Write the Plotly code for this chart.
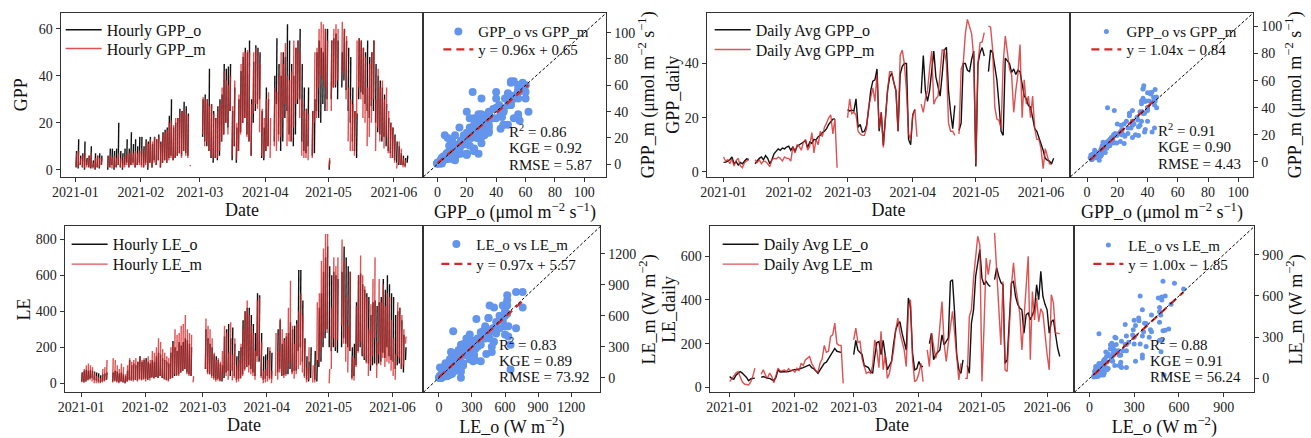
import plotly.graph_objects as go
import pandas as pd

N = None
START = "2021-01-01"
N_DAYS = 158  # 2021-01-01 .. 2021-06-07

# ---------------- Daily averages ----------------
gpp_daily_o = [3.5, 3.6, 4.0, 4.5, 5.5, 3.0, 3.8, 2.5, 3.5, 3.0, 4.0, 4.8, 4.6,
               N, N,
               3.0, 4.0, 5.0, 5.5, 4.5, 6.0, 5.0, 3.0, 4.5, 6.7, 7.5, 8.5, 8.0, 8.8, 8.5, 9.2,
               9.5, 8.0, 9.2, 7.5, 9.5, 10.0, 10.5, 11.0, 11.5, 9.0, 11.0, 10.5, 12.0, 11.8, 13.0,
               13.5, 14.5, 15.0, 16.0, 17.5, 18.5, 19.5, 19.6,
               N, N, N, N, N,
               23, 22.5, 22.8, 22.5, 27, 16.5, 17.5, 14.7, 15, 17, 23, 30, 33.5, 34, 38, 15, 22,
               9.8, 20, 30, 35, 36.5, 33, 30, 15, 36, 39, 40, 40, 12, 10,
               21, 23, N, N, 29, 43, 30, 26, 30, 38, 44.6, 35, 31, 28, 36, 45, 46, 30, 22, 16,
               24.5, N, 15.3, 18, 40, 40, 37.5, 37, 41.6, 44.6,
               2, 40, 44, 45.9, 42.8, N, 37, 45, 44, 38.5, 34, 25, 15, 13.5, 42, 41, 40, 36.7, 38,
               36, 37.5, 37, 32, 28, 27, 24.5, 24, 20, 16, 15, 12.8, 10, 8, 5, 4.3, 4, 3, 5]
gpp_daily_m = [5.5, 4.0, 4.5, 3.0, 4.8, 2.2, 4.2, 5.0, 2.2, 1.5, 3.5, 4.0, 4.5,
               N, N,
               4.5, 3.5, 4.5, 3.0, 4.0, 3.8, 3.0, 2.0, 4.5, 5.0, 4.8, 5.5, 5.0, 4.0, 5.5, 5.0,
               5.0, 4.0, 9.5, 7.0, 10.0, 9.5, 8.0, 11.0, 12.0, 8.0, 9.5, 14.5, 7.0, 12.0, 10.0,
               15.0, 13.0, 16.5, 18.0, 20.0, 21.0, 14.0, 19.5, 1.5,
               N, N, N, N,
               20, 27, 21.5, 22, 21, 15, 14, 13.5, 13.5, 16, 24, 28, 31, 26, 36, 16, 22, 9, 20,
               30, 37, 37, 33, 30, 15, 43, 45, 40, 30, 14, 12,
               21, 23, 13, N, 25, 22, 27, 30, 38, 44.6, 25, 27, 28, 36, 45, 45, 40, 18, 15, 15,
               13.5, N, 14, 38, 40, 51, 56.3, 54, 51, 42,
               3, 40, 47.7, 48, 51.4, N, 53.8, 53.5, 45, 24, 19.5, 19, 16, 40, 50.2, 45, 38, 36,
               22, 30, 36, 47, 20, 34, 25, 28, 20, 28, 16, 12, 12, 8.6, 1.2, 8.6, 6, 3, 2.7, N]

le_daily_o = [49, 40, 37, 55, 64, 72, 65, 57, 45, 30, 38, 41, 42,
              N, N,
              45, 49, 45, 41, 41, 35, 30, 45, 80, 70, 70, 72, 70, 72, 75, 80, 82, 80, 85, 87, 90,
              95, 100, 103, 90, 85, 75, 64, 80, 95, 110, 115, 130, 148, 165, 178, 165, 163, 160,
              N, N, N, N, N,
              150, 215, 170, 160, 150, 100, 95, 90, 72, 64, 140, 205, 210, 150, 215, 149, 80, 100,
              118, 200, 263, 290, 300, 248, 210, 170, 409, 370, 156, 80, 85, 118, 95, 95,
              N, N,
              200, 248, 126, 150, 160, 171, 240, 194, 210, 225, 485, 493, 340, 150, 80, 64, 126,
              N, 100, 64, 294, 355, 508, 570, 631, 500, 470, 485, 470, 462,
              N,
              493, 547, 508, 480, 470, 110, 126, 300, 478, 485, 416, 380, 363, 355, 248, 332, 340,
              309, 330, 355, 470, 401, 531, 416, 380, 355, 248, 300, 309, 240, 180, 141]
le_daily_m = [26, 40, 57, 65, 72, 50, 25, 15, 14, 11, 25, 50, 87,
              N, N,
              60, 80, 55, 41, 65, 50, 20, 55, 87, 75, 75, 80, 70, 85, 75, 80, 70, 87, 75, 110, 100,
              125, 135, 141, 110, 90, 75, 70, 110, 130, 192, 160, 165, 233, 240, 294, 200, 192, 192, 18,
              N, N, N, N,
              217, 271, 205, 210, 130, 90, 64, 70, 64, 100, 217, 170, 90, 256, 80, 149, 41, 64, 120,
              171, 263, 317, 250, 202, 171, 95, 355, 401, 126, 26, 34, 64, 110, 26,
              N,
              171, 95, 248, 180, 133, 171, 300, 393, 202, 118, 202, 279, 348, 250, 133, 34, 110, N,
              41, 41, 325, 355, 500, 600, 692, 650, 26, 279, 592, 516, 585,
              N,
              707, 539, 350, 194, 485, 80, 72, 300, 462, 570, 462, 400, 340, 171, 309, 420, 600,
              126, 439, 309, 409, 300, 360, 340, 233, 150, 80, 424, 386, 248, 248, 245]

# ---------------- Hourly series: daily low / daily peak of the hourly values ----------------
gpp_hourly_o_low = [1, 0.5, 2, 1, 0, 2, 1, 0.5, 1, 0, 1, 0.5, 2,
                    N, N,
                    0, 1, 2, 0, 1, 2, 1, 0, 2, 3, 1, 2, 3, 1, 2, 3,
                    2, 1, 3, 0, 3, 1, 4, 2, 4, 1, 3, 4, 3, 5, 6, 4, 5, 6, 7, 6, 8, 7, 6,
                    N, N, N, N, N, N,
                    14, 12, 10, 8, 5, 3, 5, 4, 6, 12, 15, 20, 18, 25, 4, 10, 3, 8, 16, 20, 22, 15,
                    12, 6, 20, 25, 28, 30, 5, 4,
                    8, 10, N, N, 12, 28, 15, 8, 12, 22, 25, 15, 12, 10, 15, 28, 30, 12, 8, 7, 10, N,
                    6, 7, 25, 22, 20, 28, 25, 30,
                    0, 30, 35, 35, 30, N, 35, 38, 34, 25, 20, 12, 8, 5, 30, 33, 32, 28, 25, 22, 27,
                    25, 20, 16, 15, 12, 14, 10, 8, 7, 5, 4, 3, 2, 2, 2, 1.5, 3]
gpp_hourly_o_peak = [8, 13, 6, 7, 12, 5, 6, 10, 4, 7, 6, 7, 6,
                     N, N,
                     6, 9, 9, 8, 9, 20, 8, 7, 9, 13, 9, 16, 11, 13, 10, 14,
                     14, 10, 13, 12, 14, 11, 14, 13, 15, 12, 16, 17, 18, 23, 30, 18, 20, 22, 26, 25,
                     29, 27, 24,
                     N, N, N, N, N, N,
                     30, 32, 30, 43, 28, 25, 22, 27, 30, 32, 45, 43, 44, 45, 25, 35, 18, 30, 42, 48,
                     52, 50, 55, 30, 46, 53, 52, 50, 25, 18,
                     35, 30, N, N, 40, 56, 45, 40, 50, 48, 62, 55, 45, 40, 52, 55, 60, 45, 35, 26, 35,
                     N, 25, 30, 50, 55, 52, 50, 60, 60,
                     4, 55, 56, 58, 55, N, 50, 60, 55, 52, 48, 35, 25, 24, 56, 55, 52, 50, 55, 48, 50,
                     55, 45, 40, 38, 35, 32, 28, 22, 20, 18, 15, 12, 10, 7, 6, 5, 6]
gpp_hourly_m_low = [1, 1, 2, 1, 0.5, 1, 1, 1, 0.5, 0.5, 1, 1, 2,
                    N, N,
                    1, 1, 0.5, 1, 1, 2, 1, 0.5, 1, 2, 1, 2, 2, 1, 2, 2,
                    1, 1, 2, 1, 3, 1, 3, 2, 4, 1, 3, 4, 3, 4, 5, 4, 5, 6, 7, 5, 8, 6, 5, 1.5,
                    N, N, N, N, N,
                    15, 10, 12, 8, 6, 5, 5, 5, 8, 12, 15, 20, 15, 25, 6, 10, 4, 8, 15, 20, 22, 14,
                    12, 6, 24, 28, 26, 16, 6, 5,
                    8, 10, 5, N, 10, 8, 12, 14, 22, 28, 10, 12, 12, 18, 28, 30, 22, 6, 5, 5, 4, N,
                    5, 20, 22, 35, 40, 38, 35, 25,
                    1, 25, 35, 36, 38, N, 40, 42, 30, 12, 8, 8, 6, 22, 35, 30, 22, 20, 10, 14, 20,
                    30, 8, 18, 12, 14, 9, 14, 7, 5, 5, 3, 0.5, 3, 2, 1, 1, N]
gpp_hourly_m_peak = [7, 8, 5, 6, 7, 4, 6, 7, 3, 5, 6, 5, 5,
                     N, N,
                     6, 6, 5, 6, 5, 7, 5, 4, 6, 7, 7, 8, 7, 8, 7, 8,
                     9, 7, 12, 11, 13, 12, 14, 13, 14, 11, 15, 16, 17, 20, 21, 19, 22, 22, 24, 25,
                     26, 24, 23, 2,
                     N, N, N, N, N,
                     31, 30, 30, 27, 28, 24, 22, 25, 28, 35, 42, 38, 36, 40, 27, 38, 20, 32, 45, 50,
                     50, 51, 50, 28, 50, 52, 50, 45, 26, 22,
                     30, 33, 22, N, 35, 33, 40, 50, 45, 54, 40, 38, 42, 55, 52, 55, 50, 30, 25, 26, 24,
                     N, 25, 50, 52, 60, 63, 62, 60, 55,
                     5, 55, 60, 62, 60, N, 63, 60, 57, 35, 30, 28, 25, 55, 56, 55, 52, 48, 35, 45, 50,
                     55, 30, 43, 35, 38, 30, 35, 25, 20, 18, 14, 3, 12, 9, 5, 4, N]

le_hourly_o_low = [10, 5, 10, 20, 25, 30, 20, 15, 10, 5, 10, 15, 20,
                   N, N,
                   10, 15, 10, 5, 10, 5, 0, 10, 20, 15, 20, 20, 15, 25, 20, 25, 25, 20, 30, 35, 30,
                   35, 30, 40, 30, 25, 20, 15, 25, 30, 40, 45, 50, 60, 70, 80, 60, 50, 40,
                   N, N, N, N, N, N,
                   80, 60, 50, 40, 30, 20, 25, 15, 10, 30, 60, 70, 40, 70, 40, 20, 25, 30, 50, 80,
                   90, 100, 80, 60, 40, 150, 120, 40, 20, 25, 40, 30, 25,
                   N, N,
                   60, 80, 40, 45, 50, 50, 80, 60, 70, 70, 180, 200, 120, 40, 20, 10, 30, N, 20, 10,
                   90, 120, 200, 250, 300, 200, 180, 200, 180, 170,
                   N,
                   200, 250, 220, 200, 180, 30, 40, 100, 180, 200, 150, 130, 120, 110, 70, 100, 110,
                   100, 110, 120, 170, 140, 200, 150, 130, 120, 80, 100, 110, 80, 60, 130]
le_hourly_o_peak = [60, 70, 75, 70, 75, 70, 65, 60, 55, 45, 50, 55, 60,
                    N, N,
                    60, 70, 65, 55, 60, 50, 40, 70, 130, 100, 110, 100, 120, 150, 120, 130, 140, 120,
                    110, 130, 120, 150, 170, 160, 140, 130, 120, 110, 170, 235, 200, 180, 230, 210,
                    230, 250, 240, 220, 200,
                    N, N, N, N, N, N,
                    300, 250, 220, 200, 160, 150, 130, 110, 100, 260, 300, 330, 250, 310, 220, 150,
                    180, 200, 350, 400, 420, 420, 380, 330, 280, 500, 490, 280, 150, 160, 200, 180, 170,
                    N, N,
                    300, 350, 220, 250, 260, 280, 340, 300, 320, 350, 630, 630, 460, 250, 150, 120, 200,
                    N, 180, 130, 420, 500, 620, 700, 760, 650, 600, 620, 600, 580,
                    N,
                    620, 760, 700, 650, 620, 200, 220, 450, 600, 610, 550, 520, 500, 480, 380, 450, 460,
                    430, 450, 480, 580, 520, 600, 550, 500, 480, 380, 400, 420, 350, 270, 200]
le_hourly_m_low = [5, 5, 10, 15, 20, 10, 0, 0, 0, 0, 5, 10, 20,
                   N, N,
                   5, 10, 5, 0, 10, 5, 0, 10, 15, 15, 10, 20, 10, 20, 15, 20, 10, 20, 15, 30, 25, 35,
                   30, 40, 30, 20, 15, 10, 25, 30, 50, 40, 40, 60, 70, 80, 50, 40, 40, 5,
                   N, N, N, N, N,
                   80, 50, 50, 30, 20, 10, 15, 10, 20, 60, 40, 20, 70, 15, 30, 5, 10, 25, 40, 70, 90,
                   60, 50, 40, 20, 120, 150, 30, 0, 5, 10, 20, 0,
                   N,
                   40, 20, 60, 40, 30, 40, 80, 120, 50, 25, 50, 80, 100, 60, 30, 5, 20, N, 5, 5, 100,
                   120, 180, 250, 300, 280, 0, 80, 250, 200, 240,
                   N,
                   320, 220, 120, 60, 180, 20, 15, 90, 170, 230, 160, 140, 110, 40, 100, 150, 250, 30,
                   160, 100, 140, 90, 120, 110, 70, 40, 20, 150, 140, 80, 100, 220]
le_hourly_m_peak = [60, 80, 100, 110, 100, 90, 60, 40, 35, 30, 80, 90, 130,
                    N, N,
                    140, 130, 100, 80, 110, 90, 50, 100, 140, 120, 130, 140, 120, 150, 130, 140, 120,
                    150, 130, 180, 170, 200, 250, 230, 190, 170, 150, 140, 200, 220, 300, 270, 280,
                    320, 330, 380, 300, 280, 270, 40,
                    N, N, N, N, N,
                    360, 320, 300, 250, 170, 130, 140, 120, 180, 320, 280, 170, 340, 160, 250, 100,
                    130, 220, 300, 400, 460, 380, 320, 280, 180, 460, 480, 230, 70, 80, 130, 200, 70,
                    N,
                    280, 180, 360, 300, 240, 280, 420, 570, 320, 220, 330, 400, 500, 380, 240, 90, 200,
                    N, 100, 100, 450, 500, 680, 750, 830, 830, 80, 420, 700, 650, 700,
                    N,
                    800, 680, 480, 320, 620, 150, 140, 430, 600, 710, 600, 540, 480, 300, 440, 580,
                    700, 230, 580, 450, 550, 430, 500, 480, 350, 250, 160, 450, 420, 380, 300, 260]

# fitted-line parameters and skill scores (as printed on the chart)
fit_gpp_hourly = (0.96, 0.65)
fit_gpp_daily = (1.04, -0.84)
fit_le_hourly = (0.97, 5.57)
fit_le_daily = (1.00, -1.85)
stats_gpp_hourly = ("0.86", "0.92", "5.87")
stats_gpp_daily = ("0.91", "0.90", "4.43")
stats_le_hourly = ("0.83", "0.89", "73.92")
stats_le_daily = ("0.88", "0.91", "56.24")
fit_labels = {"gh": "y = 0.96x + 0.65", "gd": "y = 1.04x \u2212 0.84",
              "lh": "y = 0.97x + 5.57", "ld": "y = 1.00x \u2212 1.85"}

# ---------------- derived x values ----------------
dates = pd.date_range(START, periods=N_DAYS, freq="D")
t_hourly = []
for d in dates:
    t_hourly += [d + pd.Timedelta(hours=7), d + pd.Timedelta(hours=13), d + pd.Timedelta(hours=20)]


def day_bars(lo, hi):
    # one vertical stroke per day (low -> peak), broken between days
    out = []
    for a, b in zip(lo, hi):
        out += [a, b, None]
    return out


def pairs(o, m):
    xs, ys = [], []
    for a, b in zip(o, m):
        if a is not None and b is not None:
            xs.append(a)
            ys.append(b)
    return xs, ys


W, H = 1311, 438
FONT = "Liberation Serif"
BLACK = "#111111"
RED = "#d62728"
BLUE = "#6495ED"
AX = "#333333"


def fx(p):
    return p / W


def fy(p):
    return 1 - p / H


fig = go.Figure()

panels = [
    dict(ts=1, sc=2, kind="Hourly", var="GPP", ylab="GPP", ystand=6,
         o=day_bars(gpp_hourly_o_low, gpp_hourly_o_peak),
         m=day_bars(gpp_hourly_m_low, gpp_hourly_m_peak), t=t_hourly,
         fit=fit_gpp_hourly, flab=fit_labels["gh"], st=stats_gpp_hourly,
         tsx=(53, 418), scx=(418, 602), rowy=(13, 178),
         xr=["2020-12-25", "2021-06-15"], yr=[-3, 66.8], ytv=[0, 20, 40, 60],
         sr=[-9.5, 115], stv=[0, 20, 40, 60, 80, 100],
         sxt="GPP_o (\u03bcmol m<sup>\u22122</sup> s<sup>\u22121</sup>)",
         syt="GPP_m (\u03bcmol m<sup>\u22122</sup> s<sup>\u22121</sup>)",
         legx1=53, legy1=(30, 49), legx2=433, legy2=(32, 50), ann=(503, 132), msize=8),
    dict(ts=3, sc=4, kind="Daily Avg", var="GPP", ylab="GPP_daily", ystand=0,
         o=gpp_daily_o, m=gpp_daily_m, t=list(dates),
         fit=fit_gpp_daily, flab=fit_labels["gd"], st=stats_gpp_daily,
         tsx=(703, 1069), scx=(1069, 1253), rowy=(13, 178),
         xr=["2020-12-24", "2021-06-15"], yr=[-1.8, 58.7], ytv=[0, 20, 40],
         sr=[-11, 110], stv=[0, 20, 40, 60, 80, 100],
         sxt="GPP_o (\u03bcmol m<sup>\u22122</sup> s<sup>\u22121</sup>)",
         syt="GPP_m (\u03bcmol m<sup>\u22122</sup> s<sup>\u22121</sup>)",
         legx1=706, legy1=(30, 50), legx2=1085, legy2=(32, 50), ann=(1156, 131), msize=5),
    dict(ts=5, sc=6, kind="Hourly", var="LE", ylab="LE", ystand=0,
         o=day_bars(le_hourly_o_low, le_hourly_o_peak),
         m=day_bars(le_hourly_m_low, le_hourly_m_peak), t=t_hourly,
         fit=fit_le_hourly, flab=fit_labels["lh"], st=stats_le_hourly,
         tsx=(57, 418), scx=(418, 596), rowy=(228, 395),
         xr=["2020-12-24", "2021-06-16"], yr=[-50, 872], ytv=[0, 200, 400, 600, 800],
         sr=[-140, 1465], stv=[0, 300, 600, 900, 1200],
         sxt="LE_o (W m<sup>\u22122</sup>)", syt="LE_m (W m<sup>\u22122</sup>)",
         legx1=59, legy1=(246, 266), legx2=431, legy2=(246, 266), ann=(493, 346), msize=8),
    dict(ts=7, sc=8, kind="Daily Avg", var="LE", ylab="LE_daily", ystand=0,
         o=le_daily_o, m=le_daily_m, t=list(dates),
         fit=fit_le_daily, flab=fit_labels["ld"], st=stats_le_daily,
         tsx=(706, 1073), scx=(1073, 1254), rowy=(228, 395),
         xr=["2020-12-22 12:00", "2021-06-14"], yr=[-23, 737], ytv=[0, 200, 400, 600],
         sr=[-100, 1105], stv=[0, 300, 600, 900],
         sxt="LE_o (W m<sup>\u22122</sup>)", syt="LE_m (W m<sup>\u22122</sup>)",
         legx1=714, legy1=(246, 266), legx2=1087, legy2=(247, 266), ann=(1148, 346), msize=5),
]

TICKF = dict(family=FONT, size=14, color="#222222")
TITLEF = dict(family=FONT, size=18, color="#111111")
LEGF = dict(family=FONT, size=16, color="#111111")
SLEGF = dict(family=FONT, size=15, color="#111111")

layout = dict(width=W, height=H, margin=dict(l=0, r=0, t=0, b=0),
              paper_bgcolor="white", plot_bgcolor="white", showlegend=True,
              font=dict(family=FONT, size=14, color="#111111"))
annotations = []
shapes = []
leg_count = [0]


def new_legend(x, y, font, iw):
    leg_count[0] += 1
    name = "legend" if leg_count[0] == 1 else "legend%d" % leg_count[0]
    layout[name] = dict(x=fx(x), y=fy(y), xanchor="left", yanchor="middle",
                        bgcolor="rgba(0,0,0,0)", font=font, itemwidth=iw,
                        borderwidth=0)
    return name


for i, p in enumerate(panels):
    ts, sc = p["ts"], p["sc"]
    tsn = "" if ts == 1 else str(ts)
    scn = str(sc)
    lw = 1.4
    # time series
    lgA = new_legend(p["legx1"], p["legy1"][0], LEGF, 36)
    lgB = new_legend(p["legx1"], p["legy1"][1], LEGF, 36)
    fig.add_trace(go.Scatter(x=p["t"], y=p["o"], mode="lines", name="%s %s_o" % (p["kind"], p["var"]),
                             line=dict(color=BLACK, width=lw), connectgaps=False,
                             xaxis="x" + tsn, yaxis="y" + tsn, legend=lgA))
    fig.add_trace(go.Scatter(x=p["t"], y=p["m"], mode="lines", name="%s %s_m" % (p["kind"], p["var"]),
                             line=dict(color=RED, width=lw), opacity=0.8, connectgaps=False,
                             xaxis="x" + tsn, yaxis="y" + tsn, legend=lgB))
    # scatter
    lgC = new_legend(p["legx2"], p["legy2"][0], SLEGF, 30)
    lgD = new_legend(p["legx2"], p["legy2"][1], SLEGF, 30)
    xs, ys = pairs(p["o"], p["m"])
    fig.add_trace(go.Scatter(x=xs, y=ys, mode="markers", name="%s_o vs %s_m" % (p["var"], p["var"]),
                             marker=dict(color=BLUE, size=p["msize"], line=dict(width=0)),
                             xaxis="x" + scn, yaxis="y" + scn, legend=lgC))
    a, b = p["fit"]
    x0, x1 = min(xs), max(xs)
    fig.add_trace(go.Scatter(x=[x0, x1], y=[a * x0 + b, a * x1 + b], mode="lines", name=p["flab"],
                             line=dict(color=RED, width=2.2, dash="8px,5px"),
                             xaxis="x" + scn, yaxis="y" + scn, legend=lgD))
    shapes.append(dict(type="line", xref="x%s domain" % scn, yref="y%s domain" % scn,
                       x0=0, y0=0, x1=1, y1=1, layer="above",
                       line=dict(color="black", width=1, dash="3px,2px")))

    y0p, y1p = p["rowy"]
    ydom = [fy(y1p), fy(y0p)]
    common = dict(showline=True, mirror=True, linecolor=AX, linewidth=1.2, ticks="outside",
                  ticklen=4, tickwidth=1, tickcolor=AX, showgrid=False, zeroline=False,
                  tickfont=TICKF)
    layout["xaxis" + tsn] = dict(domain=[fx(p["tsx"][0]), fx(p["tsx"][1])], anchor="y" + tsn,
                                 type="date", range=p["xr"], tickformat="%Y-%m", dtick="M1",
                                 tick0="2021-01-01", ticklabelstandoff=-2,
                                 title=dict(text="Date", font=TITLEF, standoff=0), **common)
    layout["yaxis" + tsn] = dict(domain=ydom, anchor="x" + tsn, range=p["yr"], tickvals=p["ytv"],
                                 title=dict(text=p["ylab"], font=TITLEF, standoff=p["ystand"]),
                                 **common)
    layout["xaxis" + scn] = dict(domain=[fx(p["scx"][0]), fx(p["scx"][1])], anchor="y" + scn,
                                 range=p["sr"], tickvals=p["stv"], ticklabelstandoff=-2,
                                 title=dict(text=p["sxt"], font=TITLEF, standoff=0), **common)
    layout["yaxis" + scn] = dict(domain=ydom, anchor="x" + scn, side="right", range=p["sr"],
                                 tickvals=p["stv"],
                                 title=dict(text=p["syt"], font=TITLEF, standoff=6), **common)
    r2, kge, rmse = p["st"]
    ax, ay = p["ann"]
    for k, txt in enumerate(["R<sup>2</sup> = " + r2, "KGE = " + kge, "RMSE = " + rmse]):
        annotations.append(dict(x=fx(ax), y=fy(ay + k * 17), xref="paper", yref="paper",
                                text=txt, showarrow=False, xanchor="left", yanchor="middle",
                                borderpad=0, font=dict(family=FONT, size=15, color="#111111")))

layout["annotations"] = annotations
layout["shapes"] = shapes
fig.update_layout(**layout)
fig.write_html("out.html",
               post_script="document.body.style.margin='0px';document.body.style.overflow='hidden';")
